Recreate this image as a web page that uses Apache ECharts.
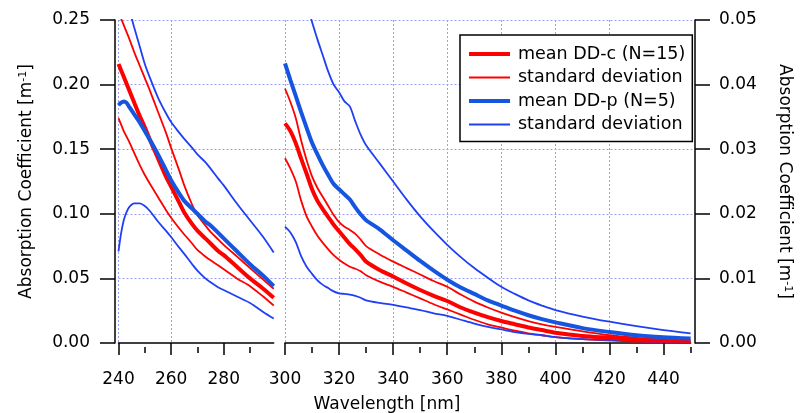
<!DOCTYPE html>
<html>
<head>
<meta charset="utf-8">
<script src="https://cdn.jsdelivr.net/npm/echarts@6/dist/echarts.min.js"></script>
<style>
  html, body { margin: 0; padding: 0; background: #fff; }
  #chart { width: 801px; height: 413px; }
</style>
</head>
<body>
<div id="chart"></div>
<script>
// wavelengths [nm]
const wlLeft = [240, 241, 242, 243, 244, 246, 248, 250, 252, 255, 258, 260, 263, 265, 268, 270, 273, 275, 278, 280, 285, 290, 295, 299];
const wlRight = [300, 302, 304, 306, 308, 310, 312, 314, 316, 318, 320, 322, 324, 326, 328, 330, 335, 340, 345, 350, 355, 360, 365, 370, 375, 380, 385, 390, 395, 400, 410, 420, 430, 440, 450];

// DD-c (left panel, left axis)
const meanCLeft = [0.216, 0.211, 0.206, 0.201, 0.196, 0.186, 0.176, 0.167, 0.157, 0.143, 0.129, 0.121, 0.109, 0.101, 0.092, 0.087, 0.081, 0.077, 0.071, 0.068, 0.059, 0.050, 0.042, 0.035];
const sdCHiLeft = [0.256, 0.251, 0.246, 0.241, 0.236, 0.225, 0.215, 0.205, 0.195, 0.179, 0.163, 0.151, 0.134, 0.122, 0.107, 0.099, 0.091, 0.086, 0.080, 0.076, 0.067, 0.058, 0.049, 0.042];
const sdCLoLeft = [0.174, 0.169, 0.164, 0.160, 0.156, 0.147, 0.138, 0.130, 0.123, 0.113, 0.103, 0.097, 0.089, 0.084, 0.077, 0.072, 0.067, 0.064, 0.060, 0.057, 0.050, 0.044, 0.036, 0.029];
// DD-p (left panel)
const meanPLeft = [0.184, 0.186, 0.187, 0.186, 0.183, 0.177, 0.171, 0.164, 0.157, 0.146, 0.134, 0.126, 0.116, 0.110, 0.104, 0.100, 0.094, 0.091, 0.085, 0.081, 0.071, 0.061, 0.052, 0.044];
const sdPHiLeft = [0.295, 0.285, 0.276, 0.267, 0.259, 0.244, 0.230, 0.216, 0.205, 0.190, 0.178, 0.171, 0.163, 0.158, 0.151, 0.146, 0.140, 0.135, 0.127, 0.122, 0.108, 0.095, 0.082, 0.070];
const sdPLoLeft = [0.071, 0.085, 0.095, 0.101, 0.105, 0.108, 0.108, 0.106, 0.102, 0.094, 0.087, 0.082, 0.074, 0.069, 0.061, 0.056, 0.050, 0.047, 0.043, 0.041, 0.036, 0.031, 0.024, 0.019];

// right panel, right axis
const meanCRight = [0.0340, 0.0328, 0.0309, 0.0285, 0.0262, 0.0238, 0.0220, 0.0207, 0.0195, 0.0183, 0.0173, 0.0163, 0.0153, 0.0145, 0.0136, 0.0126, 0.0113, 0.0103, 0.0092, 0.0082, 0.0073, 0.0065, 0.0055, 0.0047, 0.0040, 0.0034, 0.0029, 0.0024, 0.0020, 0.0016, 0.0011, 0.0008, 0.0005, 0.0004, 0.0003];
const sdCHiRight = [0.0394, 0.0373, 0.0348, 0.0313, 0.0283, 0.0258, 0.0240, 0.0226, 0.0212, 0.0198, 0.0187, 0.0180, 0.0175, 0.0169, 0.0160, 0.0150, 0.0137, 0.0126, 0.0116, 0.0106, 0.0096, 0.0087, 0.0075, 0.0064, 0.0055, 0.0047, 0.0040, 0.0034, 0.0029, 0.0025, 0.0018, 0.0012, 0.0008, 0.0005, 0.0003];
const sdCLoRight = [0.0286, 0.0270, 0.0250, 0.0220, 0.0196, 0.0180, 0.0166, 0.0155, 0.0145, 0.0136, 0.0129, 0.0123, 0.0118, 0.0115, 0.0111, 0.0105, 0.0095, 0.0087, 0.0078, 0.0069, 0.0060, 0.0052, 0.0044, 0.0036, 0.0029, 0.0024, 0.0019, 0.0015, 0.0012, 0.0009, 0.0006, 0.0004, 0.0002, 0.0001, 0.0001];
const meanPRight = [0.0433, 0.0407, 0.0382, 0.0357, 0.0333, 0.0310, 0.0292, 0.0275, 0.0260, 0.0246, 0.0238, 0.0230, 0.0222, 0.0210, 0.0199, 0.0190, 0.0176, 0.0159, 0.0143, 0.0127, 0.0112, 0.0098, 0.0086, 0.0076, 0.0066, 0.0058, 0.0050, 0.0043, 0.0037, 0.0032, 0.0023, 0.0017, 0.0012, 0.0009, 0.0007];
const sdPHiRight = [0.0630, 0.0600, 0.0575, 0.0550, 0.0525, 0.0497, 0.0470, 0.0445, 0.0420, 0.0400, 0.0388, 0.0374, 0.0366, 0.0343, 0.0322, 0.0306, 0.0278, 0.0250, 0.0222, 0.0196, 0.0173, 0.0152, 0.0133, 0.0116, 0.0101, 0.0087, 0.0076, 0.0066, 0.0058, 0.0051, 0.0041, 0.0033, 0.0026, 0.0020, 0.0015];
const sdPLoRight = [0.0180, 0.0171, 0.0156, 0.0134, 0.0118, 0.0107, 0.0097, 0.0090, 0.0085, 0.0080, 0.0077, 0.0076, 0.0075, 0.0073, 0.0070, 0.0066, 0.0062, 0.0059, 0.0055, 0.0051, 0.0046, 0.0042, 0.0036, 0.0030, 0.0025, 0.0021, 0.0017, 0.0014, 0.0012, 0.0009, 0.0006, 0.0005, 0.0003, 0.0002, 0.0001];

// ticks
const leftMajor = [240, 260, 280];
const leftMinor = [250, 270, 290];
const rightMajor = [300, 320, 340, 360, 380, 400, 420, 440];
const rightMinor = [310, 330, 350, 370, 390, 410, 430, 450];

const legendKeys = ['mc', 'sc', 'mp', 'sp'];
const legendNames = ['mean DD-c (N=15)', 'standard deviation', 'mean DD-p (N=5)', 'standard deviation'];
const legendWidths = [4, 1.8, 4, 1.8];

const RED = '#ff0000';
const BLUE = '#1f3ff5';
const BLUE_THICK = '#1655e0';
const FONT = 'DejaVu Sans';
const gridDots = { color: '#98a0f4', width: 1, type: [2, 2] };

function pairs(xs, ys) {
    return xs.map(function (x, i) { return [x, ys[i]]; });
}

function curve(name, xs, ys, panel, color, width) {
    return {
        name: name,
        type: 'line',
        xAxisIndex: panel === 0 ? 0 : 2,
        yAxisIndex: panel,
        data: pairs(xs, ys),
        symbol: 'none',
        smooth: 0.3,
        clip: true,
        lineStyle: { color: color, width: width },
        itemStyle: { color: color }
    };
}

function xMajor(grid, min, max, ticks) {
    return {
        type: 'value', gridIndex: grid, position: 'bottom', min: min, max: max, interval: 20,
        offset: 4,
        axisLine: { show: true, lineStyle: { color: '#000', width: 1.5 } },
        axisTick: { show: true, inside: false, length: 12, customValues: ticks, lineStyle: { color: '#000', width: 1.5 } },
        axisLabel: { customValues: ticks, margin: 24, fontSize: 17, fontFamily: FONT, color: '#000' },
        splitLine: { show: true, showMaxLine: false, lineStyle: gridDots }
    };
}

function xMinor(grid, min, max, ticks) {
    return {
        type: 'value', gridIndex: grid, position: 'bottom', min: min, max: max, interval: 20,
        offset: 4,
        axisLine: { show: false },
        axisTick: { show: true, inside: false, length: 6, customValues: ticks, lineStyle: { color: '#000', width: 1.5 } },
        axisLabel: { show: false },
        splitLine: { show: false }
    };
}

const chart = echarts.init(document.getElementById('chart'));

let option = {
    animation: false,
    backgroundColor: '#fff',
    textStyle: { fontFamily: FONT, color: '#000' },
    grid: [
        { left: 118.5, top: 20, width: 155.2, height: 323 },
        { left: 285, top: 20, width: 407.3, height: 323 },
        { left: 118.5, top: 20, width: 573.8, height: 323 }
    ],
    xAxis: [
        xMajor(0, 240, 299, leftMajor),
        xMinor(0, 240, 299, leftMinor),
        xMajor(1, 300, 450, rightMajor),
        xMinor(1, 300, 450, rightMinor),
        { type: 'value', gridIndex: 2, min: 0, max: 1, show: false }
    ],
    yAxis: [
        {
            type: 'value', gridIndex: 0, position: 'left', min: 0, max: 0.25, interval: 0.05,
            offset: 3.5,
            name: 'Absorption Coefficient [m{sup|-1}]',
            nameLocation: 'middle', nameGap: 80, nameRotate: 90,
            nameTextStyle: {
                fontSize: 17, fontFamily: FONT, color: '#000',
                rich: { sup: { fontSize: 11, fontFamily: FONT, verticalAlign: 'top', lineHeight: 12 } }
            },
            axisLine: { show: true, lineStyle: { color: '#000', width: 1.5 } },
            axisTick: { show: true, inside: false, length: 15, lineStyle: { color: '#000', width: 1.5 } },
            axisLabel: { margin: 25, fontSize: 17, fontFamily: FONT, color: '#000', formatter: function (v) { return v.toFixed(2); } },
            splitLine: { show: false }
        },
        {
            type: 'value', gridIndex: 1, position: 'right', min: 0, max: 0.05, interval: 0.01,
            offset: 4.4,
            name: 'Absorption Coefficient [m{sup|-1}]',
            nameLocation: 'middle', nameGap: 81, nameRotate: -90,
            nameTextStyle: {
                fontSize: 17, fontFamily: FONT, color: '#000',
                rich: { sup: { fontSize: 11, fontFamily: FONT, verticalAlign: 'top', lineHeight: 12 } }
            },
            axisLine: { show: true, lineStyle: { color: '#000', width: 1.5 } },
            axisTick: { show: true, inside: false, length: 15, lineStyle: { color: '#000', width: 1.5 } },
            axisLabel: { margin: 24, fontSize: 17, fontFamily: FONT, color: '#000', formatter: function (v) { return v.toFixed(2); } },
            splitLine: { show: false }
        },
        {
            // horizontal dotted grid across both panels
            type: 'value', gridIndex: 2, min: 0, max: 0.25, interval: 0.05,
            axisLine: { show: false }, axisTick: { show: false }, axisLabel: { show: false },
            splitLine: { show: true, showMinLine: false, lineStyle: gridDots }
        }
    ],
    legend: {
        orient: 'vertical',
        left: 460, top: 35,
        padding: [10, 7, 8, 7],
        itemGap: 5.5,
        itemWidth: 41, itemHeight: 17,
        borderColor: '#000', borderWidth: 1.5,
        backgroundColor: '#fff',
        itemStyle: { opacity: 0 },
        textStyle: { fontSize: 17.5, fontFamily: FONT, color: '#000', padding: [0, 0, 0, 3] },
        data: legendKeys.map(function (k, i) {
            return { name: k, lineStyle: { width: legendWidths[i] } };
        }),
        formatter: function (name) {
            return legendNames[legendKeys.indexOf(name)];
        }
    },
    graphic: [{
        type: 'text', x: 387, y: 405,
        style: { text: 'Wavelength [nm]', font: '17px "DejaVu Sans"', fill: '#000', align: 'center', verticalAlign: 'middle' }
    }],
    series: [
        curve('sc', wlLeft, sdCHiLeft, 0, RED, 1.8),
        curve('sc', wlLeft, sdCLoLeft, 0, RED, 1.8),
        curve('sp', wlLeft, sdPHiLeft, 0, BLUE, 1.8),
        curve('sp', wlLeft, sdPLoLeft, 0, BLUE, 1.8),
        curve('mc', wlLeft, meanCLeft, 0, RED, 4),
        curve('mp', wlLeft, meanPLeft, 0, BLUE_THICK, 4),
        curve('sc', wlRight, sdCHiRight, 1, RED, 1.8),
        curve('sc', wlRight, sdCLoRight, 1, RED, 1.8),
        curve('sp', wlRight, sdPHiRight, 1, BLUE, 1.8),
        curve('sp', wlRight, sdPLoRight, 1, BLUE, 1.8),
        curve('mc', wlRight, meanCRight, 1, RED, 4),
        curve('mp', wlRight, meanPRight, 1, BLUE_THICK, 4)
    ]
};
chart.setOption(option, true);
</script>
</body>
</html>
